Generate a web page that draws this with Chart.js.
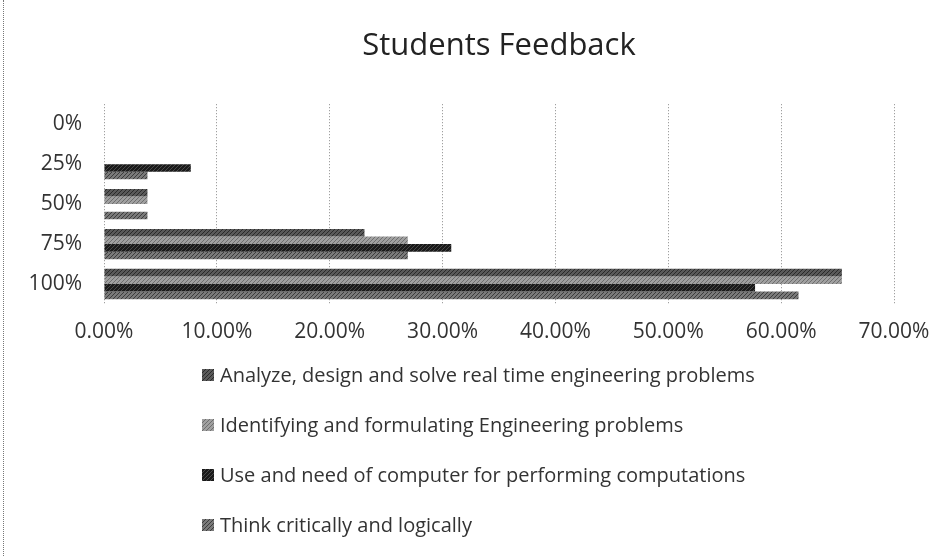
<!DOCTYPE html>
<html>
<head>
<meta charset="utf-8">
<script src="https://cdn.jsdelivr.net/npm/chart.js@4"></script>
<style>
  html, body { margin: 0; padding: 0; background: #fff; }
  #wrap { position: relative; width: 945px; height: 556px; overflow: hidden; }
  #wrap:before { content: ''; position: absolute; left: 3px; top: 0; bottom: 0; border-left: 1px dotted #777; }
  #chart { position: absolute; left: 0; top: 0; }
  #legend { position: absolute; left: 202px; top: 361px; font-family: 'Open Sans', sans-serif; font-size: 20px; color: #333; }
  .item { height: 50px; line-height: 28px; display: flex; align-items: flex-start; }
  .box { width: 12px; height: 12px; margin: 8px 6px 0 0; }
</style>
</head>
<body>
<div id="wrap">
  <canvas id="chart" width="945" height="556"></canvas>
  <div id="legend"></div>
</div>
<script>
// categories, top to bottom
const categories = ['0%', '25%', '50%', '75%', '100%'];

// values in percent
const analyzeDesign   = [0, 0, 3.85, 23.08, 65.38];
const identifyProblem = [0, 0, 3.85, 26.92, 65.38];
const useComputer     = [0, 7.69, 0, 30.77, 57.69];
const thinkCritically = [0, 3.85, 3.85, 26.92, 61.54];

const seriesNames = [
  'Analyze, design and solve real time engineering problems',
  'Identifying and formulating Engineering problems',
  'Use and need of computer for performing computations',
  'Think critically and logically'
];

const xTicks = [0, 10, 20, 30, 40, 50, 60, 70];

// base colour + hatch colour per series (scanned grey textures)
const FILLS = [
  ['#5a5a5a', '#2a2a2a'],
  ['#a0a0a0', '#6e6e6e'],
  ['#1a1a1a', '#4a4a4a'],
  ['#7a7a7a', '#3c3c3c'],
];

function hatch(base, line) {
  const c = document.createElement('canvas');
  c.width = 4; c.height = 4;
  const g = c.getContext('2d');
  g.fillStyle = base;
  g.fillRect(0, 0, 4, 4);
  g.fillStyle = line;
  for (let i = 0; i < 4; i++) g.fillRect(i, 3 - i, 1, 1);
  return c;
}

const patternCanvases = FILLS.map(f => hatch(f[0], f[1]));

Chart.defaults.font.family = "'Open Sans', sans-serif";
Chart.defaults.color = '#333';

const seriesData = [analyzeDesign, identifyProblem, useComputer, thinkCritically];
const ctx = document.getElementById('chart').getContext('2d');

new Chart(ctx, {
  type: 'bar',
  data: {
    labels: categories,
    datasets: seriesData.map((d, i) => ({
      label: seriesNames[i],
      data: d,
      backgroundColor: ctx.createPattern(patternCanvases[i], 'repeat'),
      borderWidth: 0,
      categoryPercentage: 0.76,
      barPercentage: 1.0,
    }))
  },
  options: {
    indexAxis: 'y',
    responsive: false,
    animation: false,
    layout: { padding: { left: 0, right: 51, top: 0, bottom: 202 } },
    plugins: {
      legend: { display: false },
      tooltip: { enabled: false },
      title: {
        display: true,
        fullSize: false,
        text: 'Students Feedback',
        color: '#222',
        font: { size: 31, weight: 'normal' },
        padding: { top: 28, bottom: 39 }
      }
    },
    scales: {
      x: {
        min: 0,
        max: 70,
        afterBuildTicks: axis => { axis.ticks = xTicks.map(v => ({ value: v })); },
        afterFit: axis => { axis.height = 50; },
        ticks: {
          padding: 15,
          font: { size: 21 },
          callback: v => v.toFixed(2) + '%'
        },
        grid: { color: '#8a8a8a', drawTicks: false },
        border: { display: false, dash: [1, 2] }
      },
      y: {
        afterFit: axis => { axis.width = 104; },
        ticks: { padding: 22, font: { size: 21 } },
        grid: { display: false, drawTicks: false },
        border: { display: false }
      }
    }
  }
});

// legend, listed top to bottom as in the picture
const legendEl = document.getElementById('legend');
seriesNames.forEach((name, i) => {
  const row = document.createElement('div');
  row.className = 'item';
  const url = patternCanvases[i].toDataURL();
  row.innerHTML = `<span class="box" style="background-image:url(${url})"></span><span>${name}</span>`;
  legendEl.appendChild(row);
});
</script>
</body>
</html>
